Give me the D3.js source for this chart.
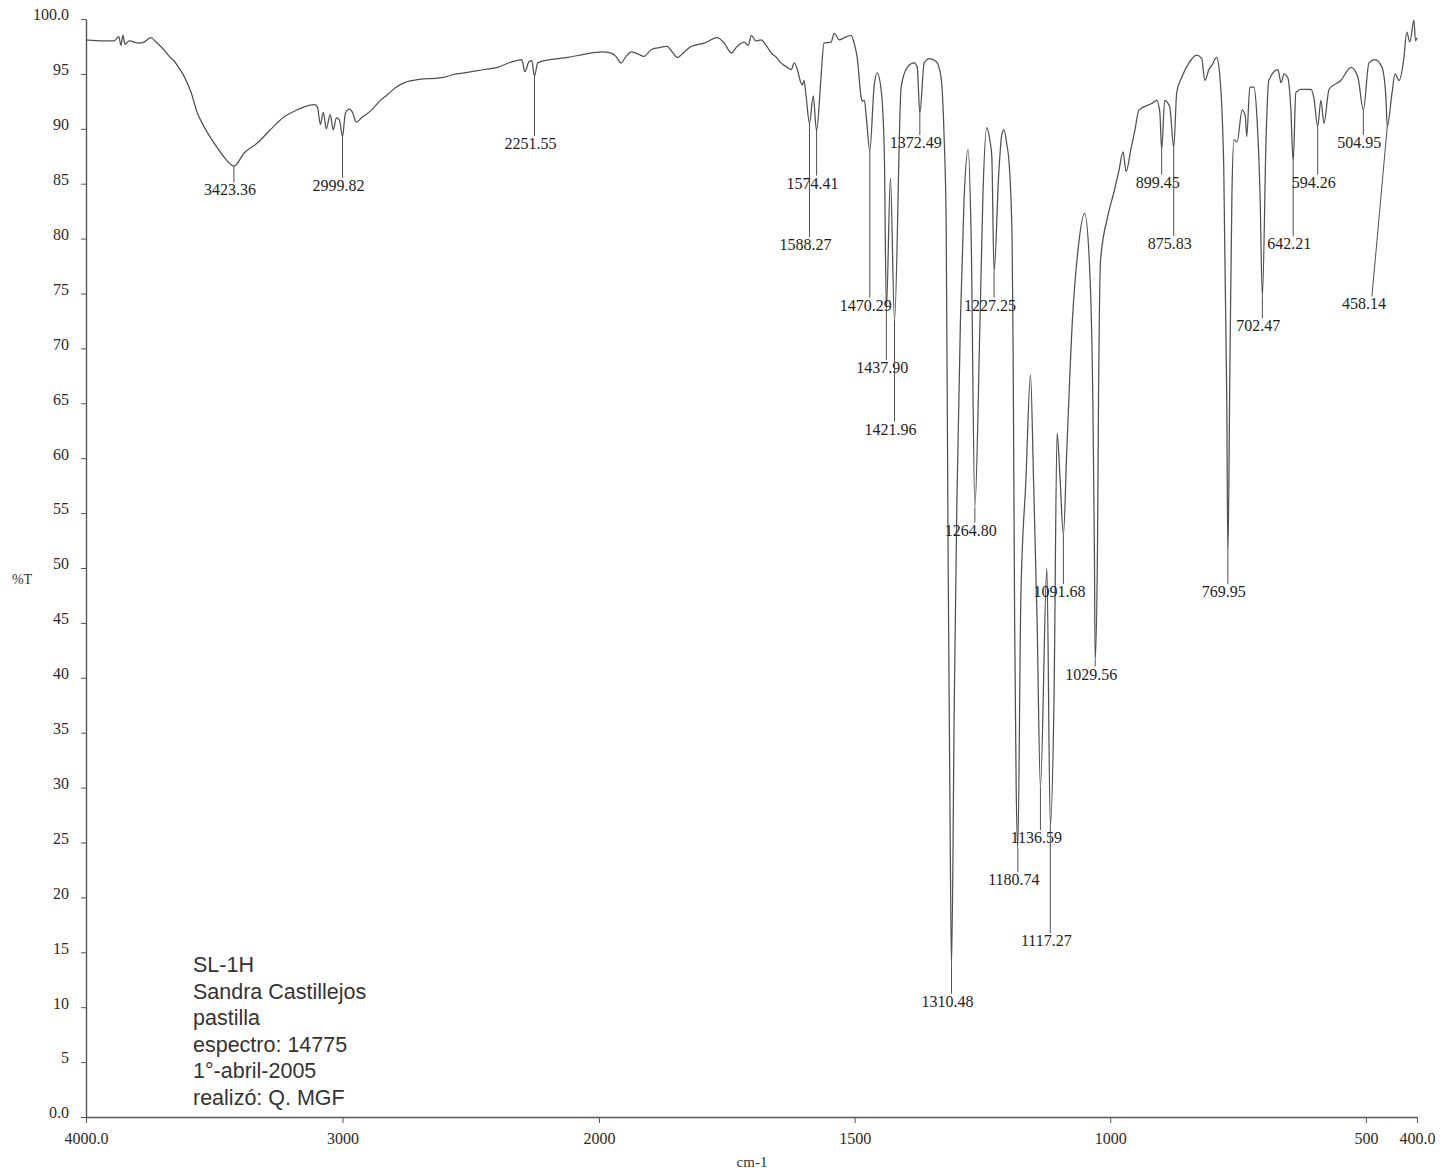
<!DOCTYPE html>
<html><head><meta charset="utf-8">
<script src="https://cdn.jsdelivr.net/npm/d3@7"></script>
<style>body{margin:0;background:#fff} svg{display:block}</style>
</head><body><svg id="c" width="1444" height="1174"></svg>
<script>
// Spectrum (wavenumber cm-1, %T)
const wavenumbers = [4000,3930,3891,3872,3864,3856,3848,3832,3793,3774,3747,3727,3696,3672,3657,3645,3618,3590,3567,3540,3512,3489,3461,3423.36,3383,3332,3286,3227,3188,3149,3110,3098,3086,3075,3063,3048,3036,3024,3012,2999.82,2989,2973,2961,2946,2926,2887,2856,2825,2790,2758,2700,2641,2602,2575,2524,2446,2395,2340,2301,2289,2273,2262,2251.55,2239,2192,2122,2055,1995,1976,1967,1957,1947,1937,1923,1912,1898,1882,1867,1857,1847,1833,1820,1794,1769,1755,1741,1730,1716,1708,1702,1693,1683,1673,1663,1653,1644,1632,1624,1618,1612,1606,1602,1599,1595,1588.27,1581,1574.41,1566,1560,1546,1540,1530,1520,1507,1501,1495,1487,1485,1481,1477,1470.29,1462,1456,1448,1442,1437.90,1430,1421.96,1409,1397,1383.5,1377.5,1372.49,1364,1354,1340,1331,1325,1321,1317,1313,1310.48,1305,1300,1293,1286,1278,1272,1264.80,1255,1249,1241.5,1235.6,1231.7,1227.25,1218,1212,1208,1202,1198,1192,1190,1187,1184,1180.74,1175,1165,1156,1150,1143,1136.59,1124,1117.27,1110,1104,1098,1091.68,1085,1074,1063,1050,1040,1034,1031,1029.56,1025,1023,1019,1005,993,983,975,969,959,952,944,919,909,903,899.45,893.5,883.7,875.83,870,860,846,831,821,815,807,801,792,786,778,772,769.95,766,762,758,752,742,736,733,727,719,713,707,702.47,695,690,672,666,660,653,647,642.21,637,627,607.5,601.6,594.26,588,582,572,549,529,515.6,504.95,494,482,468.5,461,458.14,449,443,435,426,420,414,406,403,400];
const transmittance = [98.1,98.0,98.0,98.4,97.6,98.5,97.7,98.0,97.8,97.9,98.3,97.9,97.2,96.5,96.2,95.8,94.8,93.3,91.5,90.2,89.1,88.3,87.4,86.6,87.8,88.7,89.8,91.1,91.6,92.0,92.2,92.0,90.4,91.5,90.0,91.3,89.9,91.0,90.8,89.3,91.4,91.8,91.5,90.6,91.0,91.7,92.5,93.1,93.8,94.2,94.5,94.6,94.7,94.9,95.1,95.4,95.6,96.1,96.3,95.2,96.1,96.2,94.8,96.0,96.3,96.5,96.8,97.0,96.9,96.6,96.0,96.6,97.0,96.8,96.6,97.2,97.4,97.5,97.0,96.5,97.0,97.5,97.8,98.3,97.8,96.9,97.5,97.9,97.6,98.5,98.0,98.1,97.6,96.9,96.5,96.0,95.6,95.4,96.0,95.4,94.3,94.0,94.4,93.0,90.5,93.0,89.8,94.5,97.8,97.9,98.7,98.1,98.3,98.5,97.8,96.5,92.8,92.5,92.6,91.0,88.0,93.8,95.1,93.5,88.0,73.5,85.5,72.5,93.8,95.6,96.0,95.6,91.4,96.0,96.4,96.1,94.7,89.3,81.7,50,25,13.8,38,56,72.6,83.5,88.1,80,55.5,72,84,90.1,89.0,87.5,77.0,86,89.5,89.9,88.5,87.0,80,70,45,30,24.5,47,58,67.6,58,45,30,50,26.5,38,62.3,58,53,60.7,72.6,79,82.3,77,65,51.6,41.6,51.6,65,78,82,84.2,86.2,87.9,86.1,88.3,89.8,91.7,92.3,92.6,91.5,88.1,92.6,92.0,88.3,93.3,94.7,96.0,96.7,96.4,94.4,95.4,95.8,96.5,95.0,86.5,65,51,68,84,89.0,88.8,91.7,91.2,89.3,93.8,93.8,91.0,84,74.7,89.5,94.4,95.4,94.2,95.0,94.7,92.0,87,93.3,93.6,93.6,92.8,90.2,92.6,90.5,93.6,94.4,95.6,94.7,91.7,96.0,96.3,95.6,93.0,90.2,93.2,95.0,94.4,96.3,98.8,97.9,99.9,98.0,98.3];

// Peak picks and the %T level at which each label sits
const peakWn     = [3423.36,2999.82,2251.55,1588.27,1574.41,1470.29,1437.90,1421.96,1372.49,1310.48,1264.80,1227.25,1180.74,1136.59,1117.27,1091.68,1029.56,899.45,875.83,769.95,702.47,642.21,594.26,504.95,458.14];
const peakLabelT = [84.4,84.8,88.6,79.4,85.0,73.9,68.2,62.6,88.7,10.5,53.4,73.9,21.6,25.4,16.0,47.8,40.3,85.1,79.5,47.8,72.0,79.5,85.1,88.7,74.0];
const peakLabelWn= [null,null,null,null,null,null,null,null,null,null,null,null,null,null,null,null,null,null,null,null,null,null,null,null,496];

const xTicks = [4000,3000,2000,1500,1000,500,400];
const xTickLabels = ["4000.0","3000","2000","1500","1000","500","400.0"];
const yTicks = d3.range(0,101,5);
const yTickLabels = yTicks.map(v => v===0 ? "0.0" : v===100 ? "100.0" : String(v));
const notes = ["SL-1H","Sandra Castillejos","pastilla","espectro: 14775","1°-abril-2005","realizó: Q. MGF"];

const svg = d3.select("#c");
const x = d3.scaleLinear().domain([4000,2000,400]).range([86,599,1417]);
const y = d3.scaleLinear().domain([0,100]).range([1117,19]);
const ink = "#505050";
const serif = "'Liberation Serif','Times New Roman',serif";

// axes
const yAxis = d3.axisLeft(y).tickValues(yTicks).tickSize(5).tickPadding(12)
  .tickFormat((d,i) => yTickLabels[i]).tickSizeOuter(0);
const gy = svg.append("g").attr("transform","translate(86,0)").call(yAxis);
const xAxis = d3.axisBottom(x).tickValues(xTicks).tickSize(6).tickPadding(10)
  .tickFormat((d,i) => xTickLabels[i]).tickSizeOuter(0);
const gx = svg.append("g").attr("transform","translate(0,1117)").call(xAxis);
[gx,gy].forEach(g => {
  g.attr("color","#555");
  g.select(".domain").attr("stroke-width",1.4);
  g.selectAll(".tick line").attr("stroke-width",1);
  g.selectAll("text").attr("font-family",serif).attr("font-size",16).attr("fill","#2a2a2a");
});
gy.selectAll("text").attr("dy","0.05em");

svg.append("text").attr("x",22).attr("y",584).attr("text-anchor","middle")
  .attr("font-family",serif).attr("font-size",14).attr("fill","#333").text("%T");
svg.append("text").attr("x",752).attr("y",1167).attr("text-anchor","middle")
  .attr("font-family",serif).attr("font-size",15).attr("fill","#333").text("cm-1");

// spectrum
const pts = wavenumbers.map((w,i) => [w, transmittance[i]]);
svg.append("path").datum(pts)
  .attr("fill","none").attr("stroke",ink).attr("stroke-width",1.25).attr("stroke-linejoin","round")
  .attr("d", d3.line().curve(d3.curveMonotoneX).x(d => x(d[0])).y(d => y(d[1])));

// peak labels with leaders
const lookupT = w => transmittance[wavenumbers.indexOf(w)];
const pk = svg.append("g");
peakWn.forEach((w,i) => {
  const px = x(w), py = y(lookupT(w));
  const lw = peakLabelWn[i];
  const lx = lw === null ? px : x(lw);
  const ly = y(peakLabelT[i]);
  pk.append("line").attr("x1",px).attr("y1",py)
    .attr("x2", lw === null ? px : lx + 4).attr("y2", ly - 8)
    .attr("stroke",ink).attr("stroke-width",1);
  pk.append("text").attr("x", lx - 4).attr("y", ly + 5).attr("text-anchor","middle")
    .attr("font-family",serif).attr("font-size",16).attr("fill","#1e1e1e")
    .text(w.toFixed(2));
});

// sample notes
svg.append("g").selectAll("text").data(notes).join("text")
  .attr("x",193).attr("y",(d,i) => 972 + i*26.6)
  .attr("font-family","'Liberation Sans',Arial,sans-serif").attr("font-size",21.5)
  .attr("fill","#333").text(d => d);
</script></body></html>
